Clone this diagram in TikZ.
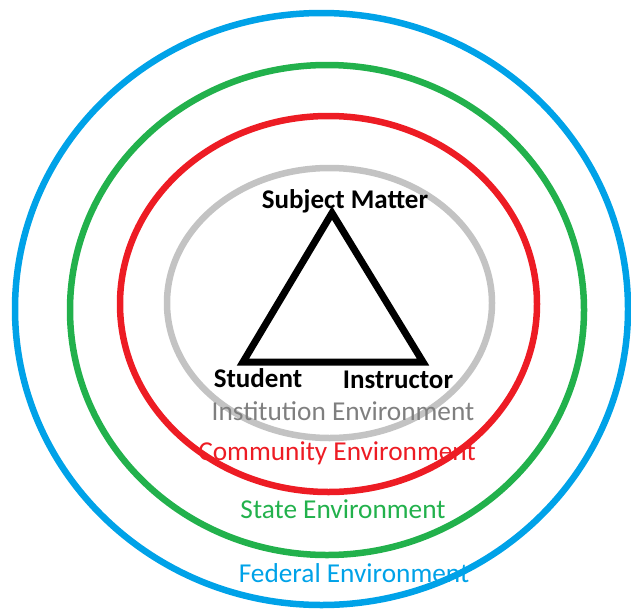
\documentclass[tikz,border=0pt]{standalone}
\usepackage{fontspec}
\setmainfont{Carlito}
\definecolor{fedblue}{RGB}{0,162,232}
\definecolor{stategreen}{RGB}{34,177,76}
\definecolor{commred}{RGB}{237,28,36}
\definecolor{instring}{RGB}{195,195,195}
\definecolor{insttext}{RGB}{127,127,127}

\begin{document}
\begin{tikzpicture}[
  x=1pt, y=-1pt,
  ring/.style={line width=6.5pt},
  tri/.style={draw=black, line width=7pt},
  corner/.style={font=\bfseries\fontsize{27}{32}\selectfont,
    text=black, inner sep=0pt, anchor=base},
  envlabel/.style={font=\fontsize{27.3}{32}\selectfont,
    inner sep=0pt, anchor=base},
]
\useasboundingbox (0,0) rectangle (631,613);

% ---- Environment rings, outermost first ----
\draw[ring, fedblue]    (321.5,309) ellipse [x radius=306.5pt, y radius=296pt];
\draw[ring, stategreen] (327,310)   ellipse [x radius=257pt, y radius=245pt];
\draw[ring, commred]    (328.5,304) ellipse [x radius=208.5pt, y radius=188pt];
\draw[ring, instring]   (329.5,303) ellipse [x radius=162.5pt, y radius=135pt];

% ---- Teaching triangle ----
\coordinate (subj) at (332,213);
\coordinate (stud) at (243,362);
\coordinate (inst) at (423,362);
\draw[tri] (subj) -- (stud) -- (inst) -- cycle;

\node[corner] (subjlbl) at (345,208) {Subject Matter};
\node[corner] (studlbl) at (258,387) {Student};
\node[corner] (instlbl) at (398,388) {Instructor};

% ---- Ring labels ----
\node[envlabel, text=insttext]   (instenv)  at (343,420) {Institution Environment};
\node[envlabel, text=commred]    (commenv)  at (337,460) {Community Environment};
\node[envlabel, text=stategreen] (stateenv) at (343,518) {State Environment};
\node[envlabel, text=fedblue]    (fedenv)   at (354,582) {Federal Environment};

\end{tikzpicture}
\end{document}
